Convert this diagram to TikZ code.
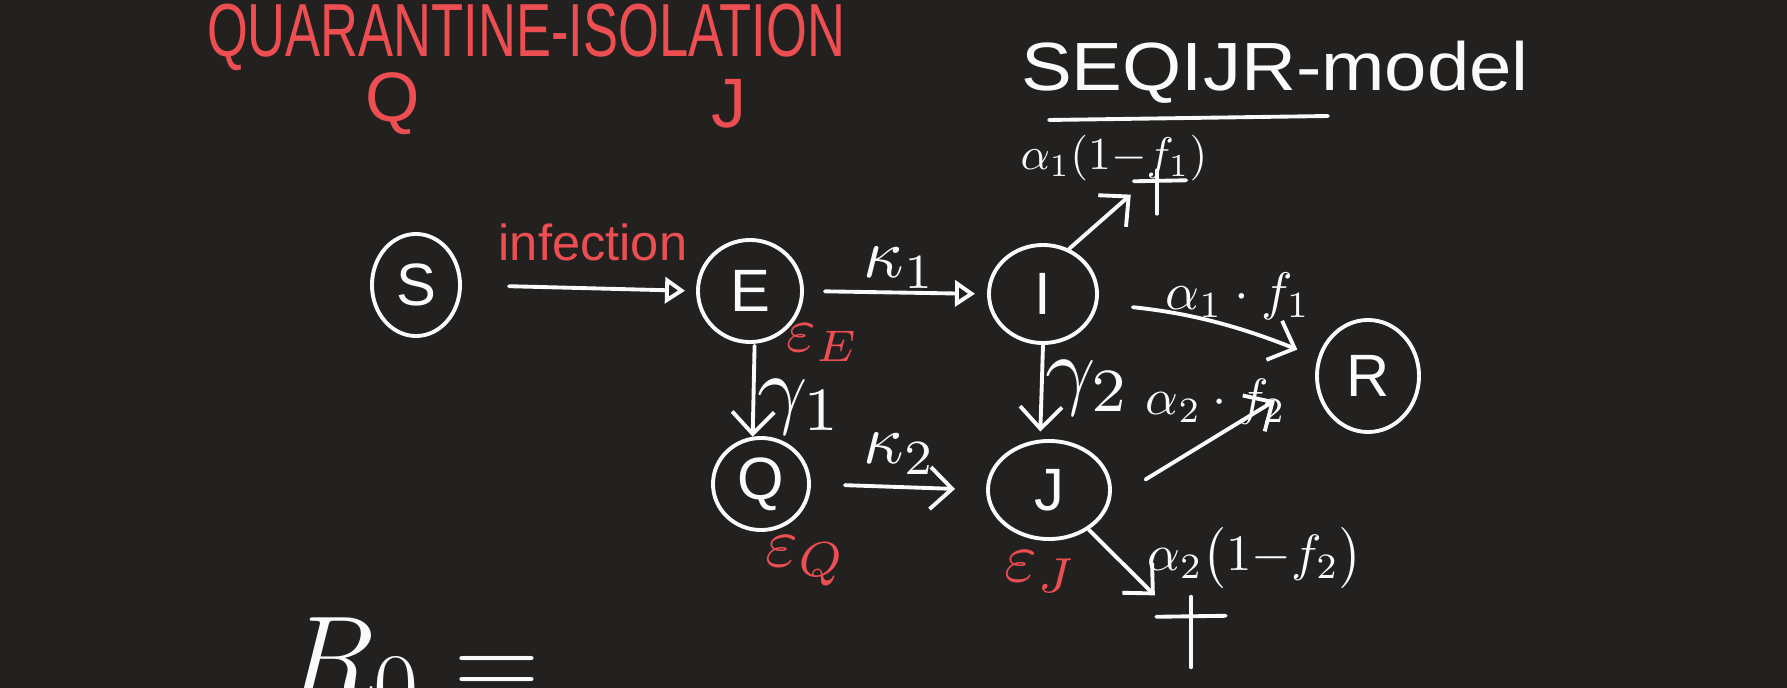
\documentclass[tikz,border=0pt]{standalone}
\usepackage[no-math]{fontspec}
\setmainfont{Liberation Sans}
\usepackage{graphicx}
\usetikzlibrary{shapes.geometric,arrows.meta}
\definecolor{bg}{RGB}{34,33,32}
\definecolor{pen}{RGB}{250,250,250}
\definecolor{redpen}{RGB}{236,78,82}
\begin{document}
\begin{tikzpicture}[x=0.01cm,y=-0.01cm,
  state/.style={draw=pen, line width=1.1pt, ellipse, inner sep=0pt, text=pen, font=\fontsize{17}{20}\selectfont},
  flow/.style={draw=pen, line width=1.1pt, line cap=round, -{Straight Barb[length=2.2mm,width=4.2mm]}},
  tri/.style={draw=pen, line width=1.1pt, line cap=round, -{Triangle[open,length=2mm,width=2.6mm]}},
  ink/.style={draw=pen, line width=1.1pt, line cap=round},
  lbl/.style={text=pen, inner sep=0pt},
  rlbl/.style={text=redpen, inner sep=0pt},
  dag/.style={inner sep=0pt},
]
\clip (0,0) rectangle (1787,688);
\fill[bg] (0,0) rectangle (1787,688);

% titles
\node[rlbl] (title) at (526,37) {\scalebox{0.6}[0.86]{\Huge QUARANTINE-ISOLATION}};
\node[rlbl] (tq) at (393,104) {\scalebox{0.8}{\Huge Q}};
\node[rlbl] (tj) at (729,104) {\scalebox{0.8}{\Huge J}};
\node[lbl] (model) at (1275,72) {\scalebox{0.87}[0.78]{\Huge SEQIJR-model}};
\draw[ink] (1049,120) -- (1328,116);

% states
\node[state, minimum width=0.88cm, minimum height=1.02cm] (S) at (416,285) {S};
\node[state, minimum width=1.04cm, minimum height=1.02cm] (E) at (750,291) {E};
\node[state, minimum width=1.08cm, minimum height=0.98cm] (I) at (1043,294) {I};
\node[state, minimum width=1.02cm, minimum height=1.12cm] (R) at (1368,376) {R};
\node[state, minimum width=0.96cm, minimum height=0.92cm] (Q) at (761,484) {Q};
\node[state, minimum width=1.22cm, minimum height=0.98cm] (J) at (1049,490) {J};

% death markers
\node[dag, minimum width=0.51cm, minimum height=0.42cm] (d1) at (1160,192) {};
\draw[ink] ([xshift=-0.03cm]d1.north) -- ([xshift=-0.03cm]d1.south);
\draw[ink] ([yshift=-0.11cm]d1.north west) -- ([yshift=-0.1cm]d1.north east);
\node[dag, minimum width=0.68cm, minimum height=0.69cm] (d2) at (1191,632) {};
\draw[ink] (d2.north) -- (d2.south);
\draw[ink] ([yshift=-0.2cm]d2.north west) -- ([yshift=-0.19cm]d2.north east);

% connectors
\draw[tri, shorten <=0.47cm, shorten >=0.11cm] (S.east) -- (E.west);
\draw[tri, shorten <=0.21cm, shorten >=0.12cm] (E.east) -- (I.west);
\draw[flow, shorten <=0.02cm] (E.-85) -- (Q.100);
\draw[flow, shorten >=0.08cm] (I.-90) -- (J.100);
\draw[flow, shorten <=0.34cm, shorten >=0.31cm] (Q.east) -- (J.west);
\draw[flow, shorten <=0.35cm, shorten >=0.22cm] (I.-10) to[bend left=8] (R.160);
\draw[flow, shorten <=0.41cm, shorten >=0.47cm] (J.-10) -- (R.180);
\draw[flow, shorten >=0.04cm] (I.60) -- (d1.west);
\draw[flow, shorten >=0.02cm] (J.-45) -- (d2.north west);

% labels
\node[rlbl] (linf) at (593,242) {\Large infection};
\node[lbl] (lk1) at (900,268) {\scalebox{2.0}{$\kappa_1$}};
\node[lbl] (lk2) at (900,454) {\scalebox{2.0}{$\kappa_2$}};
\node[lbl] (lg1) at (800,407) {\scalebox{2.5}{$\gamma_1$}};
\node[lbl] (lg2) at (1088,388) {\scalebox{2.5}{$\gamma_2$}};
\node[lbl] (la1) at (1238,296) {\scalebox{1.5}{$\alpha_1\cdot f_1$}};
\node[lbl] (la2) at (1216,402) {\scalebox{1.45}{$\alpha_2\cdot f_2$}};
\node[lbl] (lad1) at (1114,158) {\scalebox{1.3}{$\alpha_1(1{-}f_1)$}};
\node[lbl] (lad2) at (1255,558) {\scalebox{1.45}{$\alpha_2\bigl(1{-}f_2\bigr)$}};
\node[rlbl] (leE) at (823,343) {\scalebox{1.8}{$\varepsilon_E$}};
\node[rlbl] (leQ) at (806,561) {\scalebox{2.0}{$\varepsilon_Q$}};
\node[rlbl] (leJ) at (1041,572) {\scalebox{2.0}{$\varepsilon_J$}};

% partial formula at the bottom edge
\node[lbl, anchor=north west] (r0) at (285,617) {\scalebox{1.35}{\Huge $R_0 =$}};
\end{tikzpicture}
\end{document}
